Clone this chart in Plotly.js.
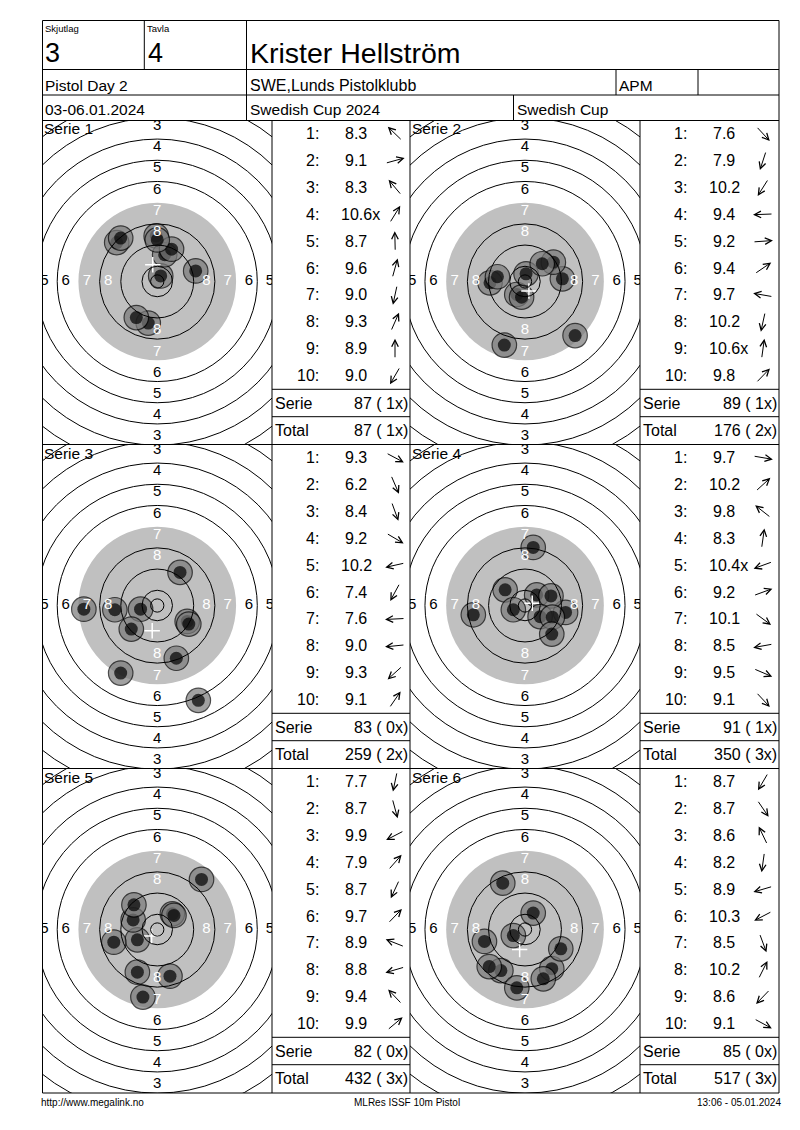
<!DOCTYPE html>
<html>
<head>
<meta charset="utf-8">
<script src="https://cdn.plot.ly/plotly-3.0.1.min.js"></script>
<style>
html,body{margin:0;padding:0;background:#fff;}
#chart{width:800px;height:1130px;}
</style>
</head>
<body>
<div id="chart"></div>
<script>
// ---------------- DATA ----------------
const serieNames = ['Serie 1','Serie 2','Serie 3','Serie 4','Serie 5','Serie 6'];
const shotNumbers = ['1:','2:','3:','4:','5:','6:','7:','8:','9:','10:'];

const scoresSerie1 = ['8.3','9.1','8.3','10.6x','8.7','9.6','9.0','9.3','8.9','9.0'];
const scoresSerie2 = ['7.6','7.9','10.2','9.4','9.2','9.4','9.7','10.2','10.6x','9.8'];
const scoresSerie3 = ['9.3','6.2','8.4','9.2','10.2','7.4','7.6','9.0','9.3','9.1'];
const scoresSerie4 = ['9.7','10.2','9.8','8.3','10.4x','9.2','10.1','8.5','9.5','9.1'];
const scoresSerie5 = ['7.7','8.7','9.9','7.9','8.7','9.7','8.9','8.8','9.4','9.9'];
const scoresSerie6 = ['8.7','8.7','8.6','8.2','8.9','10.3','8.5','10.2','8.6','9.1'];

// shot positions on the target, mm from centre (x right, y up)
const shotXSerie1 = [-15.3, 14.5, -13.8, 1.3, -0.4, 2.8, -3.4, 5.4, 0.0, -7.9];
const shotYSerie1 = [14.7, 4.0, 16.4, 2.1, 17.2, 10.1, -15.7, 12.2, 15.7, -13.6];
const shotXSerie2 = [18.9, -7.8, -3.1, -13.2, 14.1, 10.7, -10.4, -1.3, 0.4, 6.5];
const shotYSerie2 = [-20.4, -24.0, -4.9, -0.5, 1.0, 7.3, 1.8, -5.9, 2.9, 6.7];
const shotXSerie3 = [11.3, 15.5, 7.2, 11.9, -6.3, -13.8, -27.7, -16.0, -9.8, 8.6];
const shotYSerie3 = [-6.0, -35.8, -19.9, -7.0, -1.4, -25.5, -1.4, -1.6, -8.9, 12.5];
const shotXSerie4 = [15.3, 4.4, -7.5, 3.1, -4.4, 9.8, 5.7, -19.5, 10.3, 10.1];
const shotYSerie4 = [-2.6, 4.0, 5.9, 21.9, -1.6, 3.6, -4.2, -3.5, -4.4, -10.8];
const shotXSerie5 = [-5.4, 4.8, -7.5, 16.7, -7.5, 5.7, -9.1, -16.4, -8.8, 6.3];
const shotYSerie5 = [-25.5, -17.6, -3.9, 18.9, -16.1, 5.9, 3.6, -4.8, 9.3, 5.3];
const shotXSerie6 = [-9.1, 10.1, -8.4, -3.1, -15.3, -4.4, 6.9, 3.1, -13.5, 13.5];
const shotYSerie6 = [-15.5, -14.8, 17.5, -22.0, -4.5, -2.3, -18.6, 6.2, -14.0, -7.3];

const serieResults = ['87 ( 1x)','89 ( 1x)','83 ( 0x)','91 ( 1x)','82 ( 0x)','85 ( 0x)'];
const totalResults = ['87 ( 1x)','176 ( 2x)','259 ( 2x)','350 ( 3x)','432 ( 3x)','517 ( 3x)'];

// target geometry (ISSF 10m air pistol, mm)
const ringRadii = [2.5, 5.75, 13.75, 21.75, 37.75, 45.75, 53.75, 61.75, 69.75, 77.75];
const blackRadius = 29.75;
const zoneNumbers = [3,4,5,6,7,8];

// header / footer texts
const headerSmall = ['Skjutlag','Tavla'];
const headerBig = ['3','4'];
const shooterName = 'Krister Hellström';
const infoRow1 = ['Pistol Day 2','SWE,Lunds Pistolklubb','APM'];
const infoRow2 = ['03-06.01.2024','Swedish Cup 2024','Swedish Cup'];
const footer = ['http://www.megalink.no','MLRes ISSF 10m Pistol','13:06 - 05.01.2024'];

const scores = [scoresSerie1,scoresSerie2,scoresSerie3,scoresSerie4,scoresSerie5,scoresSerie6];
const shotX = [shotXSerie1,shotXSerie2,shotXSerie3,shotXSerie4,shotXSerie5,shotXSerie6];
const shotY = [shotYSerie1,shotYSerie2,shotYSerie3,shotYSerie4,shotYSerie5,shotYSerie6];

// ---------------- LAYOUT ----------------
const W = 800, H = 1130;
const FONT = '"Liberation Sans", Arial, sans-serif';
const S = 2.65; // px per mm
const px = x => x / W;
const py = y => 1 - y / H;

const L = 42.5, R = 779, TOP = 20.5, BOT = 1093;
const targetX0 = [42.5, 410], targetX1 = [272, 640];
const tableX0 = [272, 640], tableX1 = [410, 779];
const rowTop = [120.5, 444.5, 768.5], rowBot = [444.5, 768.5, 1093];
const centreOffset = 161;
const rowH = 26.88;

const data = [];
const shapes = [];
const annotations = [];
const layout = {
  width: W, height: H,
  margin: {l:0, r:0, t:0, b:0},
  paper_bgcolor: '#fff', plot_bgcolor: '#fff',
  showlegend: false,
  font: {family: FONT, color: '#000'},
  shapes: shapes, annotations: annotations
};

function line(x0,y0,x1,y1){
  shapes.push({type:'line', xref:'paper', yref:'paper', x0:px(x0), y0:py(y0), x1:px(x1), y1:py(y1),
    line:{color:'#000', width:1}, layer:'above'});
}
function txt(t, x, y, size, anchor, color){
  annotations.push({xref:'paper', yref:'paper', x:px(x), y:py(y), text:t, showarrow:false,
    xanchor:anchor||'left', yanchor:'middle', font:{family:FONT, size:size, color:color||'#000'}, borderpad:0});
}

// frame + header grid
line(L,TOP,R,TOP); line(L,BOT,R,BOT); line(L,TOP,L,BOT); line(R,TOP,R,BOT);
line(L,69.5,R,69.5); line(L,95,R,95); line(L,120.5,R,120.5);
line(144.3,TOP,144.3,69.5); line(246.5,TOP,246.5,120.5);
line(616,69.5,616,95); line(698,69.5,698,95); line(513.5,95,513.5,120.5);
line(L,444.5,R,444.5); line(L,768.5,R,768.5);
[272,410,640].forEach(x => line(x,120.5,x,BOT));

// header texts
txt(headerSmall[0], 44, 28.5, 9.5); txt(headerSmall[1], 146, 28.5, 9.5);
txt(headerBig[0], 43.5, 52.5, 27); txt(headerBig[1], 146.5, 52.5, 27);
txt(shooterName, 248.5, 52.5, 28.5);
txt(infoRow1[0], 44, 85.5, 15.5); txt(infoRow1[1], 249, 85.5, 16); txt(infoRow1[2], 618, 85.5, 15.5);
txt(infoRow2[0], 44, 109.5, 15.5); txt(infoRow2[1], 249, 109.5, 15.5); txt(infoRow2[2], 516, 109.5, 15.5);

// footer
txt(footer[0], 40, 1102, 10, 'left');
txt(footer[1], 407, 1102, 10, 'center');
txt(footer[2], 782, 1102, 10, 'right');

for (let i = 0; i < 6; i++) {
  const c = i % 2, r = Math.floor(i / 2);
  const suf = i === 0 ? '' : String(i + 1);
  const xr = 'x' + suf, yr = 'y' + suf;
  const x0 = targetX0[c], x1 = targetX1[c], top = rowTop[r], bot = rowBot[r];
  const cx = (x0 + x1) / 2, cy = top + centreOffset;
  const xRange = [-(cx - x0) / S, (x1 - cx) / S];
  const yRange = [-(bot - cy) / S, (cy - top) / S];

  layout['xaxis' + suf] = {domain:[px(x0), px(x1)], range:xRange, visible:false, fixedrange:true, anchor: yr};
  layout['yaxis' + suf] = {domain:[py(bot), py(top)], range:yRange, visible:false, fixedrange:true, anchor: xr};

  // black (grey) aiming area
  shapes.push({type:'circle', xref:xr, yref:yr, x0:-blackRadius, x1:blackRadius, y0:-blackRadius, y1:blackRadius,
    fillcolor:'#c0c0c0', line:{width:0}, layer:'below'});
  // ring lines
  ringRadii.forEach(rad => shapes.push({type:'circle', xref:xr, yref:yr, x0:-rad, x1:rad, y0:-rad, y1:rad,
    line:{color:'#000', width:1}, fillcolor:'rgba(0,0,0,0)', layer:'above'}));

  // shots: outer grey disc then black centre, interleaved so later shots cover earlier ones
  const xs = [], ys = [], sz = [], col = [], lw = [];
  for (let k = 0; k < shotX[i].length; k++) {
    xs.push(shotX[i][k], shotX[i][k]); ys.push(shotY[i][k], shotY[i][k]);
    sz.push(24.5, 13); col.push('#7a7a7a', '#000'); lw.push(1.2, 0);
  }
  data.push({type:'scatter', mode:'markers', x:xs, y:ys, xaxis:xr, yaxis:yr, hoverinfo:'skip', cliponaxis:true,
    marker:{size:sz, color:col, line:{color:'#000', width:lw}}});

  // ring numbers (only those whose centre lies inside the panel)
  const lx = [], ly = [], lt = [], lc = [];
  zoneNumbers.forEach(n => {
    const rr = 2.55 + (10 - n) * 8;
    const colr = n >= 7 ? '#fff' : '#000';
    [[0,1],[0,-1],[-1,0],[1,0]].forEach(d => {
      const vx = d[0]*rr, vy = d[1]*rr;
      if (vx < xRange[0] || vx > xRange[1] || vy < yRange[0] || vy > yRange[1]) return;
      lx.push(vx); ly.push(vy); lt.push(String(n)); lc.push(colr);
    });
  });
  data.push({type:'scatter', mode:'text', x:lx, y:ly, text:lt, textposition:'middle center', cliponaxis:true,
    textfont:{family:FONT, size:15, color:lc}, xaxis:xr, yaxis:yr, hoverinfo:'skip'});

  // mean point of impact
  const mx = shotX[i].reduce((a,b)=>a+b,0) / shotX[i].length;
  const my = shotY[i].reduce((a,b)=>a+b,0) / shotY[i].length;
  data.push({type:'scatter', mode:'markers', x:[mx], y:[my], xaxis:xr, yaxis:yr, hoverinfo:'skip',
    marker:{symbol:'cross-thin', size:11, color:'#fff', line:{color:'#fff', width:1.5}}});

  // serie label
  txt(serieNames[i], x0 + 0.5, top + 8.5, 15.5);

  // table
  const tx0 = tableX0[c], tx1 = tableX1[c];
  line(tx0, top + 268.8, tx1, top + 268.8);
  line(tx0, top + 296.2, tx1, top + 296.2);
  for (let k = 0; k < scores[i].length; k++) {
    const yc = top + 13.2 + k * rowH;
    txt(shotNumbers[k], tx0 + 48, yc, 16, 'right');
    const s = scores[i][k];
    txt(s, tx0 + 84 + (s.endsWith('x') ? 4 : 0), yc, 16, 'center');
    // direction arrow
    const th = Math.atan2(shotY[i][k], shotX[i][k]);
    const ac = tx0 + 123, half = 10;
    annotations.push({xref:'paper', yref:'paper', x:px(ac + half*Math.cos(th)), y:py(yc - half*Math.sin(th)),
      ax:-2*half*Math.cos(th), ay:2*half*Math.sin(th), text:'', showarrow:true,
      arrowhead:5, arrowsize:1.3, arrowwidth:1, arrowcolor:'#000', standoff:0});
  }
  txt('Serie', tx0 + 2, top + 282.5, 16, 'left');
  txt(serieResults[i], tx1 - 1.5, top + 282.5, 16, 'right');
  txt('Total', tx0 + 2, top + 309.8, 16, 'left');
  txt(totalResults[i], tx1 - 1.5, top + 309.8, 16, 'right');
}

Plotly.newPlot('chart', data, layout, {staticPlot:true, displayModeBar:false});
</script>
</body>
</html>
